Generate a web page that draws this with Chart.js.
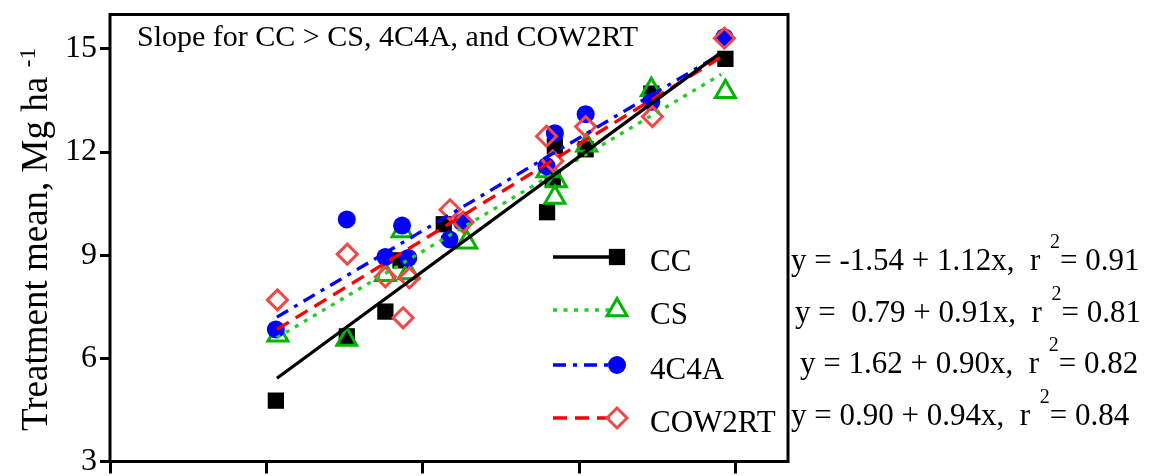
<!DOCTYPE html>
<html>
<head>
<meta charset="utf-8">
<script src="https://cdn.jsdelivr.net/npm/chart.js@4.4.1/dist/chart.umd.min.js"></script>
<style>
  html, body { margin: 0; padding: 0; background: #fff; overflow: hidden; }
</style>
</head>
<body>
<canvas id="chartOne" width="1160" height="476"></canvas>
<script>
// series names (legend order)
let seriesNames = ['CC', 'CS', '4C4A', 'COW2RT'];

// treatment means vs environment mean
let ccX = [6.18, 7.54, 8.28, 8.57, 9.40, 11.38, 11.49, 11.53, 12.12, 13.38, 14.80];
let ccY = [4.77, 6.64, 7.36, 8.85, 9.90, 10.25, 11.22, 12.17, 12.08, 13.70, 14.71];

let csX = [6.22, 7.54, 8.28, 8.60, 8.72, 9.84, 11.38, 11.53, 11.56, 12.14, 13.38, 14.80];
let csY = [6.67, 6.55, 8.43, 9.70, 8.48, 9.38, 11.45, 10.68, 11.16, 12.20, 13.81, 13.75];

let c4aX = [6.18, 7.54, 8.28, 8.60, 8.72, 9.51, 9.75, 11.37, 11.53, 12.12, 13.38, 14.78];
let c4aY = [6.84, 10.04, 8.95, 9.86, 8.92, 9.46, 9.96, 11.59, 12.55, 13.10, 13.46, 15.34];

let cowX = [6.21, 7.55, 8.28, 8.62, 8.74, 9.52, 9.77, 11.37, 11.49, 12.12, 13.40, 14.78];
let cowY = [7.70, 9.03, 8.37, 7.18, 8.34, 10.32, 9.96, 12.46, 11.74, 12.74, 13.03, 15.31];

// fitted lines (end points)
let fitX = [6.2, 14.72];
let ccFit = [5.42, 14.90];
let csFit = [6.60, 14.26];
let c4aFit = [7.20, 14.86];
let cowFit = [6.84, 14.76];

// axes
let xTicks = [3, 6, 9, 12, 15];
let yTicks = [3, 6, 9, 12, 15];

// texts
let titleText = 'Slope for CC > CS, 4C4A, and COW2RT';
let yTitle = 'Treatment mean, Mg ha';
let yTitleSup = '-1';
let eqBefore = ['y = -1.54 + 1.12x,  r ', 'y =  0.79 + 0.91x,  r ', 'y = 1.62 + 0.90x,  r ', 'y = 0.90 + 0.94x,  r '];
let eqSup = ['2', '2', '2', '2'];
let eqAfter = ['= 0.91', '= 0.81', '= 0.82', '= 0.84'];

// styles
let markerColors = ['#000000', '#00b400', '#0000ff', '#f04848'];
let markerFill = ['#000000', 'rgba(0,0,0,0)', '#0000ff', 'rgba(0,0,0,0)'];
let markerStyles = ['rect', 'triangle', 'circle', 'rectRot'];
let markerRadius = [11.5, 11.5, 9, 10];
let markerBorder = [0, 3, 0, 3];
let lineColors = ['#000000', '#22cc22', '#0000ff', '#ff0000'];
let lineDashes = [[], [4, 6.5], [13, 7, 4, 7], [14, 8]];

const serif = '"Liberation Serif", "Times New Roman", serif';
Chart.defaults.font.family = serif;
Chart.defaults.color = '#000';

function pts(xs, ys) {
    return xs.map((x, i) => ({ x: x, y: ys[i] }));
}

let pointSets = [pts(ccX, ccY), pts(csX, csY), pts(c4aX, c4aY), pts(cowX, cowY)];
let fitSets = [ccFit, csFit, c4aFit, cowFit].map(f => pts(fitX, f));

let datasets = [];
fitSets.forEach((d, i) => {
    datasets.push({
        type: 'line',
        label: seriesNames[i] + ' fit',
        data: d,
        borderColor: lineColors[i],
        borderWidth: 3.3,
        borderDash: lineDashes[i],
        pointRadius: 0,
        fill: false,
        tension: 0,
        order: i
    });
});
pointSets.forEach((d, i) => {
    datasets.push({
        type: 'scatter',
        label: seriesNames[i],
        data: d,
        showLine: false,
        pointStyle: markerStyles[i],
        pointRadius: markerRadius[i],
        pointBackgroundColor: markerFill[i],
        pointBorderColor: markerColors[i],
        pointBorderWidth: markerBorder[i],
        clip: false,
        order: 10 - i
    });
});

function drawMarker(ctx, i, x, y) {
    ctx.save();
    ctx.fillStyle = markerFill[i];
    ctx.strokeStyle = markerColors[i];
    ctx.lineWidth = markerBorder[i];
    ctx.setLineDash([]);
    Chart.helpers.drawPoint(ctx, {
        pointStyle: markerStyles[i],
        radius: markerRadius[i],
        rotation: 0,
        borderWidth: markerBorder[i]
    }, x, y);
    ctx.restore();
}

const annotate = {
    id: 'annotate',
    afterDraw(chart) {
        const ctx = chart.ctx;
        const a = chart.chartArea;
        ctx.save();
        // frame
        ctx.strokeStyle = '#000';
        ctx.lineWidth = 3;
        ctx.strokeRect(a.left, a.top, a.right - a.left, a.bottom - a.top);

        ctx.fillStyle = '#000';
        ctx.textAlign = 'left';
        ctx.textBaseline = 'alphabetic';

        // title inside plot
        ctx.font = '30px ' + serif;
        ctx.fillText(titleText, 137, 46);

        // y axis title with superscript
        ctx.save();
        ctx.translate(47, 431);
        ctx.rotate(-Math.PI / 2);
        ctx.font = '37px ' + serif;
        ctx.fillText(yTitle, 0, 0);
        let w = ctx.measureText(yTitle + ' ').width;
        ctx.font = '24px ' + serif;
        ctx.fillText(yTitleSup, w, -12);
        ctx.restore();

        // legend
        let rows = [257, 310, 365, 418];
        rows.forEach((y, i) => {
            ctx.save();
            ctx.strokeStyle = lineColors[i];
            ctx.lineWidth = 3.3;
            ctx.setLineDash(lineDashes[i]);
            ctx.beginPath();
            ctx.moveTo(553, y);
            ctx.lineTo(610, y);
            ctx.stroke();
            ctx.restore();
            drawMarker(ctx, i, 617, y);
            ctx.fillStyle = '#000';
            ctx.font = '31px ' + serif;
            ctx.fillText(seriesNames[i], 650, y + 14);
        });

        // equations
        let eqX = [791, 795, 800, 791];
        let eqY = [270, 322, 373, 425];
        eqBefore.forEach((t, i) => {
            let x = eqX[i];
            ctx.font = '31px ' + serif;
            ctx.fillText(t, x, eqY[i]);
            x += ctx.measureText(t).width + 2;
            ctx.font = '20px ' + serif;
            ctx.fillText(eqSup[i], x, eqY[i] - 22);
            x += ctx.measureText(eqSup[i]).width;
            ctx.font = '31px ' + serif;
            ctx.fillText(eqAfter[i], x, eqY[i]);
        });
        ctx.restore();
    }
};

const ctxOne = document.getElementById('chartOne').getContext('2d');
const chartOne = new Chart(ctxOne, {
    type: 'scatter',
    data: { datasets: datasets },
    options: {
        responsive: false,
        animation: false,
        devicePixelRatio: 1,
        layout: { padding: { left: 0, right: 372, top: 12, bottom: 0 } },
        plugins: {
            legend: { display: false },
            tooltip: { enabled: false },
            title: { display: false }
        },
        scales: {
            x: {
                type: 'linear',
                min: 3,
                max: 16,
                afterBuildTicks: s => { s.ticks = xTicks.map(v => ({ value: v })); },
                afterFit: s => { s.height = 13; s.paddingLeft = 0; s.paddingRight = 0; },
                ticks: { display: false },
                border: { display: false },
                grid: {
                    drawOnChartArea: false,
                    drawTicks: true,
                    tickLength: 12,
                    color: '#000',
                    lineWidth: 3
                }
            },
            y: {
                type: 'linear',
                min: 3,
                max: 16,
                afterBuildTicks: s => { s.ticks = yTicks.map(v => ({ value: v })); },
                afterFit: s => { s.width = 110; s.paddingTop = 0; s.paddingBottom = 0; },
                ticks: {
                    font: { size: 32, family: serif },
                    color: '#000',
                    padding: 3
                },
                border: { display: false },
                grid: {
                    drawOnChartArea: false,
                    drawTicks: true,
                    tickLength: 10,
                    color: '#000',
                    lineWidth: 3
                }
            }
        }
    },
    plugins: [annotate]
});
</script>
</body>
</html>
